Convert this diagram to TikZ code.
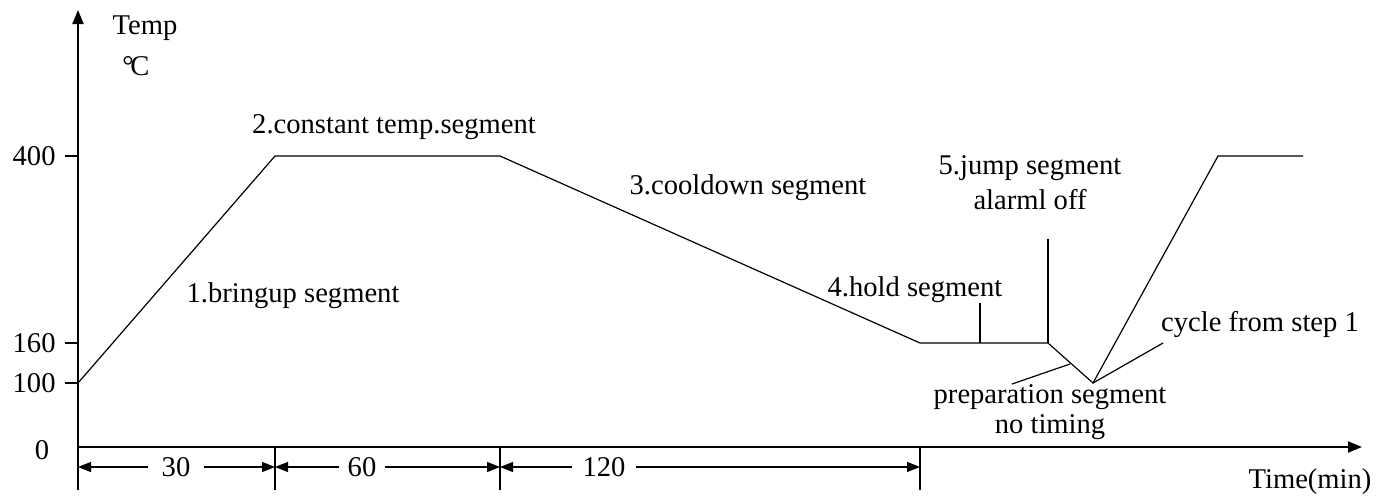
\documentclass[tikz,border=0pt]{standalone}
\usepackage{fontspec}
\setmainfont{Liberation Serif}
\usetikzlibrary{arrows.meta}
\begin{document}
\begin{tikzpicture}[x=0.5pt,y=-0.5pt,font=\fontsize{14.3}{16}\selectfont,
  axis/.style={line width=1pt,-{Triangle[length=7pt,width=5.5pt]}},
  curve/.style={line width=0.6pt},
  dim/.style={line width=0.6pt,-{Triangle[length=6.5pt,width=5pt]}},
  lbl/.style={inner sep=0pt}]
\useasboundingbox (0,0) rectangle (1400,495);

% axes
\coordinate (o) at (78,447);
\coordinate (ytop) at (78,10);
\coordinate (ybot) at (78,490);
\coordinate (xend) at (1362,447);
\draw[axis] (ybot) -- (ytop);
\draw[axis] (o) -- (xend);
\node[lbl] (temp) at (145,28) {Temp};
\node[lbl] (unit) at (136,66) {°\kern-0.12em C};
\node[lbl] (time) at (1310,482) {Time(min)};

% y ticks
\foreach \v/\y in {400/156,160/343,100/383}{
  \coordinate (tk\v) at (65,\y);
  \coordinate (ax\v) at (78,\y);
  \draw[line width=1pt] (tk\v) -- (ax\v);
  \node[lbl,anchor=east] (lab\v) at (56,\y) {\v};
}
\node[lbl] (lab0) at (42,450) {0};

% temperature profile
\coordinate (p0) at (78,383);
\coordinate (p1) at (275,156);
\coordinate (p2) at (500,156);
\coordinate (p3) at (920,343);
\coordinate (p4) at (1048,343);
\coordinate (p5) at (1093,383);
\coordinate (p6) at (1218,156);
\coordinate (p7) at (1303,156);
\draw[curve] (p0) -- (p1) -- (p2) -- (p3) -- (p4) -- (p5) -- (p6) -- (p7);

% hold and jump marks
\coordinate (h0) at (980,343);
\coordinate (h1) at (980,303);
\coordinate (j1) at (1048,239);
\draw[line width=0.8pt] (h0) -- (h1);
\draw[line width=0.8pt] (p4) -- (j1);

% segment labels
\node[lbl] (seg1) at (293,296) {1.bringup segment};
\node[lbl] (seg2) at (394,127) {2.constant temp.segment};
\node[lbl] (seg3) at (748,188) {3.cooldown segment};
\node[lbl] (seg4) at (915,290) {4.hold segment};
\node[lbl] (seg5) at (1030,168) {5.jump segment};
\node[lbl] (alarm) at (1030,200) {alarml off};
\node[lbl] (prep) at (1050,397) {preparation segment};
\node[lbl] (nott) at (1050,427) {no timing};
\node[lbl] (cyc) at (1260,325) {cycle from step 1};

% leaders
\coordinate (lp0) at (1070,364);
\coordinate (lp1) at (1012,384);
\coordinate (lc1) at (1163,343);
\draw[curve] (lp0) -- (lp1);
\draw[curve] (p5) -- (lc1);

% time dimensions
\coordinate (t0) at (78,467);
\coordinate (t1) at (275,467);
\coordinate (t2) at (500,467);
\coordinate (t3) at (920,467);
\foreach \x in {275,500,920}{
  \coordinate (vt\x) at (\x,447);
  \coordinate (vb\x) at (\x,490);
  \draw[line width=0.8pt] (vt\x) -- (vb\x);
}
\node[inner xsep=6.5pt,inner ysep=0pt] (d30) at (176,467) {30};
\node[inner xsep=4pt,inner ysep=0pt] (d60) at (362,467) {60};
\node[inner xsep=5.2pt,inner ysep=0pt] (d120) at (604,467) {120};
\draw[dim] (d30) -- (t0);
\draw[dim] (d30) -- (t1);
\draw[dim] (d60) -- (t1);
\draw[dim] (d60) -- (t2);
\draw[dim] (d120) -- (t2);
\draw[dim] (d120) -- (t3);
\end{tikzpicture}
\end{document}
